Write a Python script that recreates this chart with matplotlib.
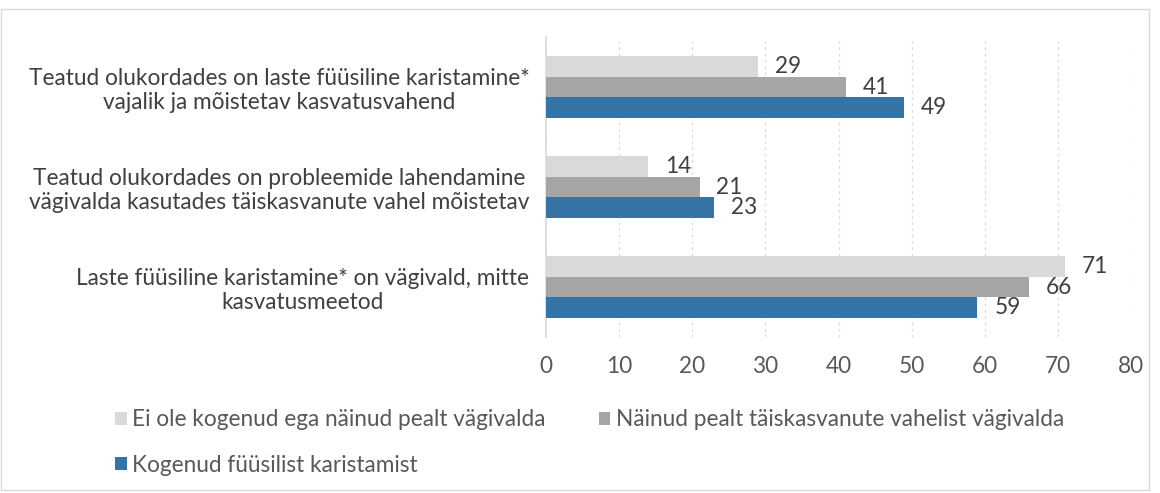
import matplotlib
matplotlib.use("Agg")
import matplotlib.pyplot as plt
from matplotlib.patches import Rectangle
import numpy as np

categories = [
    "Teatud olukordades on laste füüsiline karistamine*\nvajalik ja mõistetav kasvatusvahend",
    "Teatud olukordades on probleemide lahendamine\nvägivalda kasutades täiskasvanute vahel mõistetav",
    "Laste füüsiline karistamine* on vägivald, mitte\nkasvatusmeetod",
]
series_names = [
    "Ei ole kogenud ega näinud pealt vägivalda",
    "Näinud pealt täiskasvanute vahelist vägivalda",
    "Kogenud füüsilist karistamist",
]
values_none = [29, 14, 71]
values_witness = [41, 21, 66]
values_experienced = [49, 23, 59]
x_ticks = [0, 10, 20, 30, 40, 50, 60, 70, 80]

colors = ["#D9D9D9", "#A5A5A5", "#3574A6"]
text_color = "#595959"
fs = 16.3

plt.rcParams['font.family'] = ['Lato', 'DejaVu Sans']

fig = plt.figure(figsize=(11.6, 4.93), dpi=100)
ax = fig.add_axes([546/1160, 156/493, 585/1160, 300/493])

y = np.arange(len(categories))
h = 0.205
series = [values_none, values_witness, values_experienced]
offsets = [-h, 0, h]
for vals, off, col, name in zip(series, offsets, colors, series_names):
    bars = ax.barh(y + off, vals, height=h, color=col, label=name, zorder=3)
    for b, v in zip(bars, vals):
        ax.text(b.get_width() + 2.3, b.get_y() + b.get_height()/2, f"{v}",
                va='center', ha='left', fontsize=fs, color='#404040')

ax.set_ylim(2.5, -0.5)
ax.set_xlim(0, 80)
ax.set_xticks(x_ticks)
ax.set_xticklabels([str(t) for t in x_ticks], fontsize=fs, color=text_color)
ax.set_yticks(y)
ax.set_yticklabels(categories, fontsize=fs, color='#404040', multialignment='center')
ax.tick_params(axis='both', length=0)
ax.tick_params(axis='x', pad=14)
ax.tick_params(axis='y', pad=12)
for s in ['top', 'right', 'bottom']:
    ax.spines[s].set_visible(False)
ax.spines['left'].set_color('#D9D9D9')
ax.spines['left'].set_linewidth(1.2)
ax.xaxis.grid(True, linestyle=(0, (2, 3)), color='#D9D9D9', linewidth=0.9, zorder=0)
ax.set_axisbelow(True)

handles, labels = ax.get_legend_handles_labels()
fig.legend(handles[:2], labels[:2], loc='center left', bbox_to_anchor=(95/1160, 1 - 420/493),
           ncol=2, frameon=False, fontsize=fs, handlelength=0.5, handleheight=0.5,
           handletextpad=0.25, columnspacing=2.35, labelcolor=text_color)
fig.legend(handles[2:], labels[2:], loc='center left', bbox_to_anchor=(95/1160, 1 - 465/493),
           ncol=1, frameon=False, fontsize=fs, handlelength=0.5, handleheight=0.5,
           handletextpad=0.25, labelcolor=text_color)

fig.patches.append(Rectangle((1/1160, 1 - 490/493), 1148/1160, 481/493, transform=fig.transFigure,
                             fill=False, edgecolor='#D9D9D9', linewidth=1))

fig.savefig("out.png", dpi=100)
